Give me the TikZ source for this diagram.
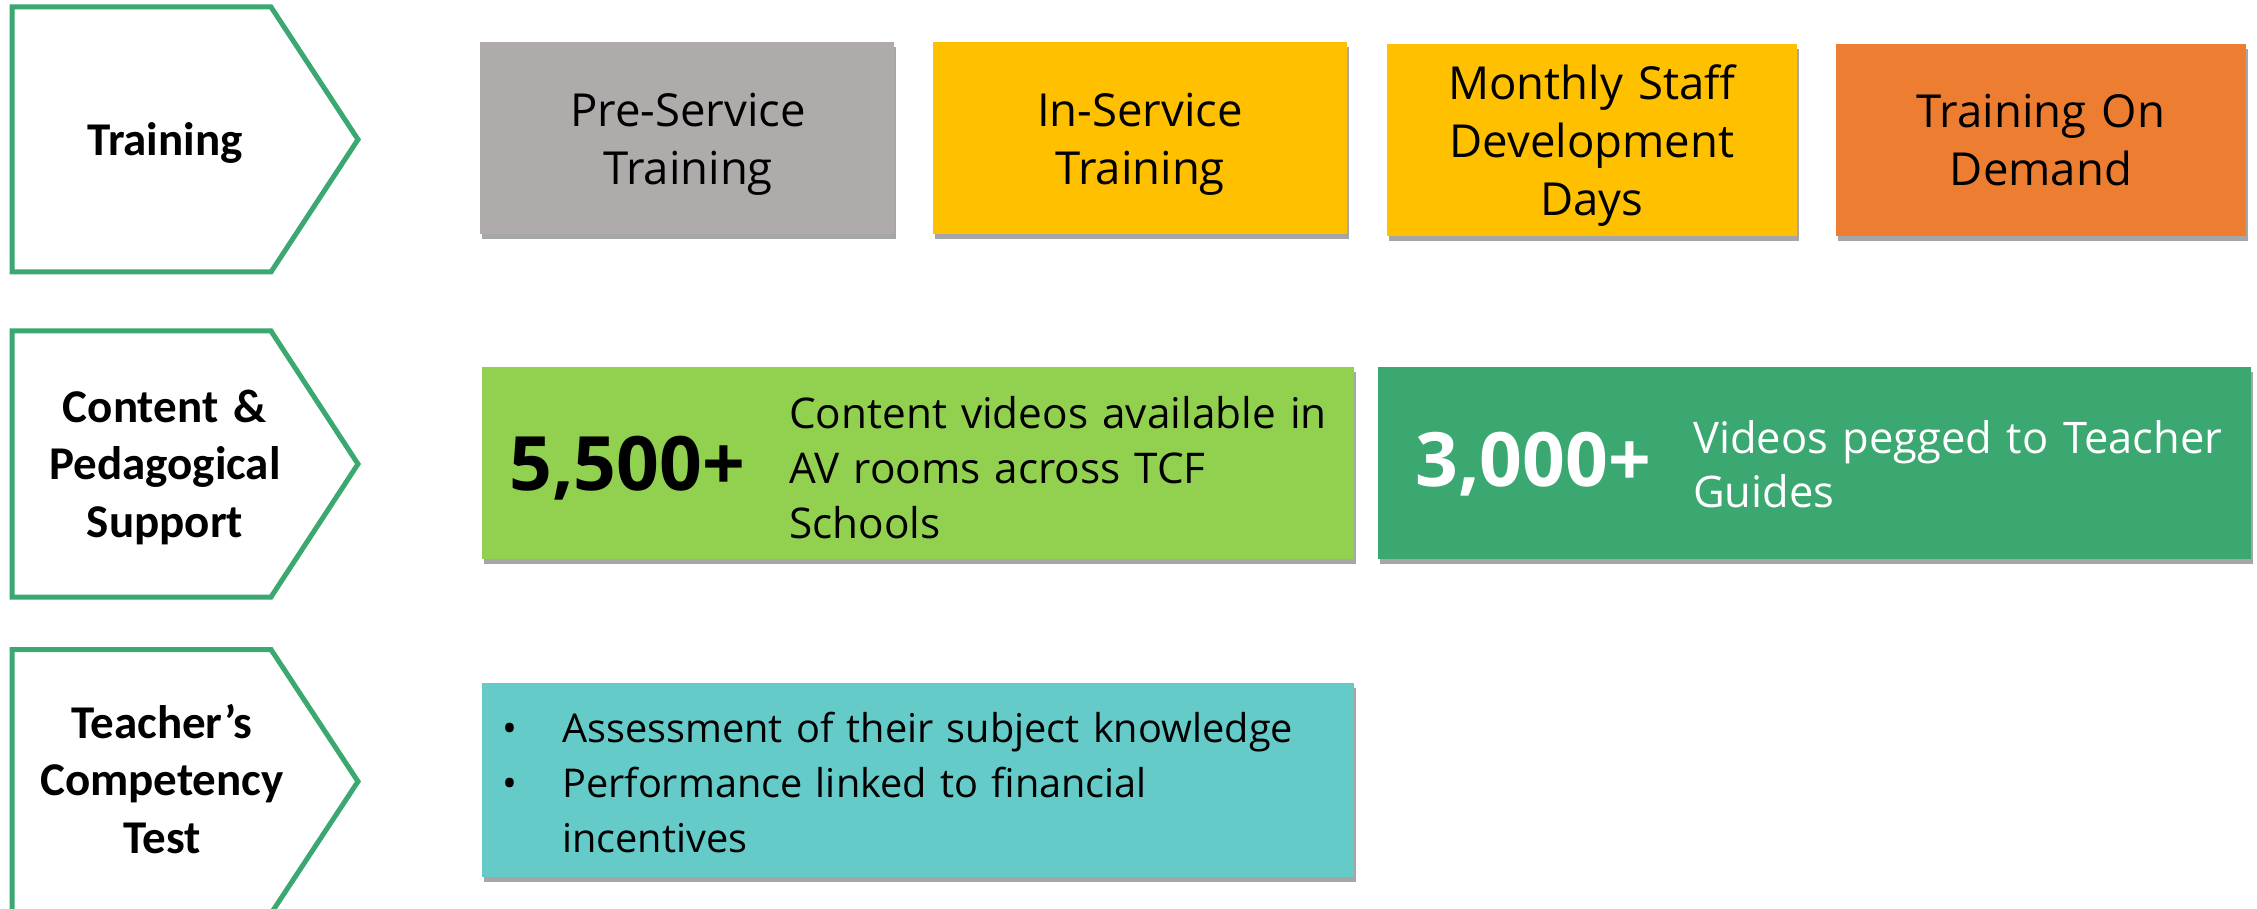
\documentclass[tikz,border=0pt]{standalone}
\usepackage{fontspec}
\setmainfont{Open Sans}
\newfontfamily\lblfont{Carlito}
\usetikzlibrary{shadows}
\definecolor{cgray}{HTML}{AFABAB}
\definecolor{cyellow}{HTML}{FFC000}
\definecolor{corange}{HTML}{ED7D31}
\definecolor{clgreen}{HTML}{92D050}
\definecolor{cdgreen}{HTML}{3AA870}
\definecolor{cteal}{HTML}{65CBC9}
\definecolor{cline}{HTML}{3AA870}
\newcommand{\bul}{\makebox[60pt][l]{•}}
\begin{document}
\begin{tikzpicture}[x=1pt,y=-1pt,
  chev/.style={draw=cline, line width=5pt, line join=miter, fill=white},
  lbl/.style={font=\lblfont\bfseries\fontsize{47}{57.5}\selectfont, text width=320pt, align=center, inner sep=0pt, anchor=base},
  box/.style={rectangle, inner sep=0pt, draw=none, drop shadow={shadow xshift=2pt, shadow yshift=-5pt, opacity=0.35, fill=black}},
  btxt/.style={font=\fontsize{45.5}{58}\selectfont, text width=400pt, align=center, inner sep=0pt, anchor=base},
  ltxt/.style={text width=700pt, align=left, inner sep=0pt, anchor=base west},
  big/.style={font=\bfseries\fontsize{75}{80}\selectfont, inner sep=0pt, anchor=base west}]
\useasboundingbox (0,0) rectangle (2257,909);
\fill[white] (0,0) rectangle (2257,909);
\begin{scope}
\clip (0,0) rectangle (2257,909);
\draw[chev] (12,7) -- (271,7) -- (358,139.5) -- (271,272) -- (12,272) -- cycle;
\draw[chev] (12,331) -- (271,331) -- (358,464) -- (271,597) -- (12,597) -- cycle;
\draw[chev] (12,649.5) -- (271,649.5) -- (358,781.5) -- (271,913.5) -- (12,913.5) -- cycle;
\end{scope}
\node[lbl] (lTrain) at (165,156) {Training};
\node[lbl] (lCont) at (165,422) {Content \&\\Pedagogical\\Support};
\node[lbl] (lTest) at (162,738) {Teacher’s\\Competency\\Test};
% row 1
\node[box, fill=cgray, minimum width=414, minimum height=192] (bPre) at (687,138) {};
\node[box, fill=cyellow, minimum width=414, minimum height=192] (bIn) at (1140,138) {};
\node[box, fill=cyellow, minimum width=410, minimum height=192] (bMon) at (1592,140) {};
\node[box, fill=corange, minimum width=410, minimum height=192] (bDem) at (2041,140) {};
\node[btxt] (tPre) at (688,127) {Pre-Service\\Training};
\node[btxt] (tIn) at (1140,127) {In-Service\\Training};
\node[btxt] (tMon) at (1592,100) {Monthly Staff\\Development\\Days};
\node[btxt] (tDem) at (2041,128) {Training On\\Demand};
% row 2
\node[box, fill=clgreen, minimum width=872, minimum height=192] (bCont) at (917.5,463) {};
\node[box, fill=cdgreen, minimum width=873, minimum height=192] (bVid) at (1814.5,463) {};
\node[big] (n1) at (509,490) {5,500+};
\node[ltxt, font=\fontsize{42.3}{55}\selectfont] (t1) at (789,428) {Content videos available in\\AV rooms across TCF\\Schools};
\node[big, text=white] (n2) at (1415,486) {3,000+};
\node[ltxt, text=white, font=\fontsize{43.5}{54}\selectfont] (t2) at (1693,453) {Videos pegged to Teacher\\Guides};
% row 3
\node[box, fill=cteal, minimum width=872, minimum height=194] (bTest) at (917.5,780) {};
\node[ltxt, text width=840pt, font=\fontsize{39.7}{55}\selectfont] (t3) at (502,742) {\bul Assessment of their subject knowledge\\\bul Performance linked to financial\\\hspace*{60pt}incentives};
\end{tikzpicture}
\end{document}
